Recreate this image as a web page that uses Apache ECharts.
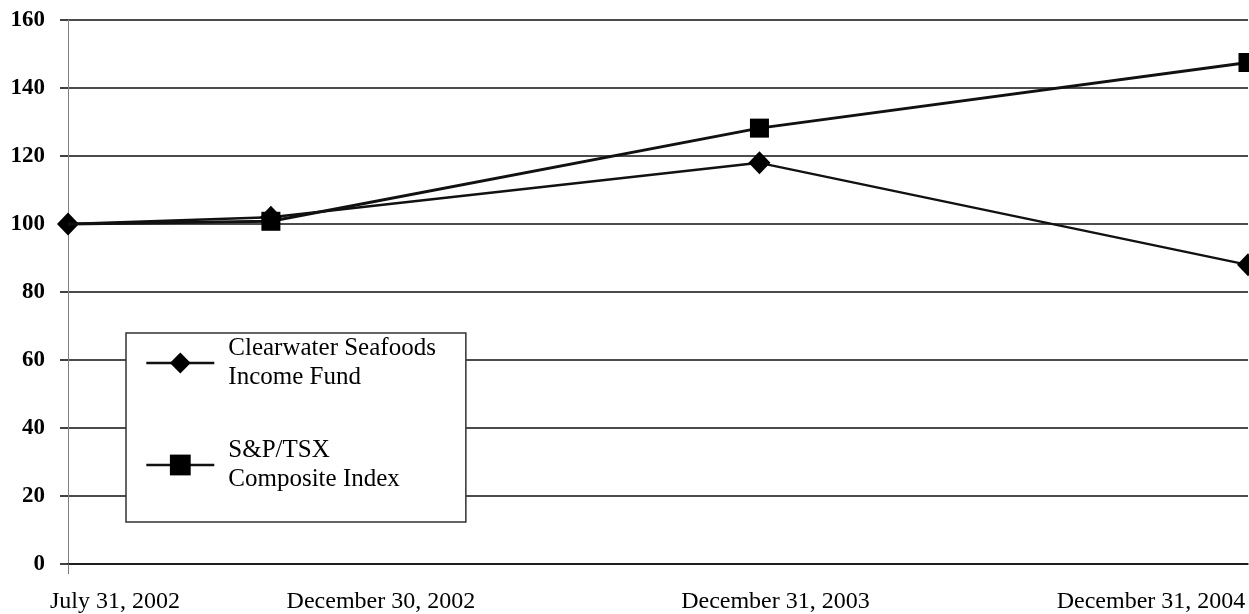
<!DOCTYPE html>
<html>
<head>
<meta charset="utf-8">
<script src="https://cdn.jsdelivr.net/npm/echarts@6/dist/echarts.min.js"></script>
<style>
html,body{margin:0;padding:0;background:#fff;}
#chart{width:1249px;height:614px;}
</style>
</head>
<body>
<div id="chart"></div>
<script>
// ---- data ----
const dates = ['2002-07-31', '2002-12-30', '2003-12-31', '2004-12-31'];
const dateLabels = ['July 31, 2002', 'December 30, 2002', 'December 31, 2003', 'December 31, 2004'];
const clearwater = [100, 102, 118, 88];
const sptsx = [100, 100.8, 128.2, 147.5];
const seriesNames = ['Clearwater Seafoods\nIncome Fund', 'S&P/TSX\nComposite Index'];
const yTicks = { min: 0, max: 160, interval: 20 };

// days since first date
const t0 = Date.parse(dates[0]);
const days = dates.map(d => Math.round((Date.parse(d) - t0) / 864e5));

const FONT = "'Liberation Serif', 'Times New Roman', serif";
const labelStyleNames = ['l0', 'l1', 'l2', 'l3'];

const chart = echarts.init(document.getElementById('chart'), null, { renderer: 'canvas' });

const cwData = days.map((d, i) => [d, clearwater[i]]);
const spData = days.map((d, i) => i === 0 ? { value: [d, sptsx[i]], symbol: 'none' } : [d, sptsx[i]]);

chart.setOption({
  animation: false,
  backgroundColor: '#ffffff',
  grid: { left: 68, right: 1, top: 20, bottom: 47 },
  xAxis: {
    type: 'value',
    min: days[0],
    max: days[days.length - 1],
    splitLine: { show: false },
    axisLine: { show: true, lineStyle: { color: '#111', width: 1.6 } },
    axisTick: { show: true, customValues: [days[0]], length: 10, lineStyle: { color: '#777', width: 1 } },
    axisLabel: {
      customValues: days,
      margin: 26,
      fontFamily: FONT,
      fontSize: 24,
      color: '#000',
      formatter: function (v) {
        const i = days.indexOf(v);
        return '{' + labelStyleNames[i] + '|' + dateLabels[i] + '}';
      },
      rich: {
        l0: { fontFamily: FONT, fontSize: 24, color: '#000', padding: [0, 0, 0, 94] },
        l1: { fontFamily: FONT, fontSize: 24, color: '#000', padding: [0, 0, 0, 220] },
        l2: { fontFamily: FONT, fontSize: 24, color: '#000', padding: [0, 0, 0, 32] },
        l3: { fontFamily: FONT, fontSize: 24, color: '#000', padding: [0, 194, 0, 0] }
      }
    }
  },
  yAxis: {
    type: 'value',
    min: yTicks.min,
    max: yTicks.max,
    interval: yTicks.interval,
    axisLine: { show: true, lineStyle: { color: '#808080', width: 1 } },
    axisTick: { show: true, length: 8, lineStyle: { color: '#111', width: 1.6 } },
    splitLine: { show: true, lineStyle: { color: '#111', width: 1.6 } },
    axisLabel: { margin: 23, fontFamily: FONT, fontSize: 23, fontWeight: 'bold', color: '#000' }
  },
  legend: {
    orient: 'vertical',
    left: 126,
    top: 333,
    padding: [-13.5, 30, 13.5, 19],
    itemGap: 15,
    itemWidth: 68,
    itemHeight: 26,
    backgroundColor: '#fff',
    borderColor: '#333',
    borderWidth: 1.5,
    borderRadius: 0,
    lineStyle: { width: 2.6, color: '#111' },
    textStyle: { fontFamily: FONT, fontSize: 25, color: '#000', lineHeight: 29, padding: [29, 0, 0, 9] },
    data: seriesNames
  },
  series: [
    {
      name: seriesNames[0],
      type: 'line',
      data: cwData,
      symbol: 'diamond',
      symbolSize: [22, 23],
      showAllSymbol: true,
      lineStyle: { color: '#111', width: 2.4 },
      itemStyle: { color: '#000' },
      z: 2
    },
    {
      name: seriesNames[1],
      type: 'line',
      data: spData,
      symbol: 'rect',
      symbolSize: 19,
      showAllSymbol: true,
      lineStyle: { color: '#111', width: 3 },
      itemStyle: { color: '#000' },
      z: 3
    }
  ]
});
</script>
</body>
</html>
